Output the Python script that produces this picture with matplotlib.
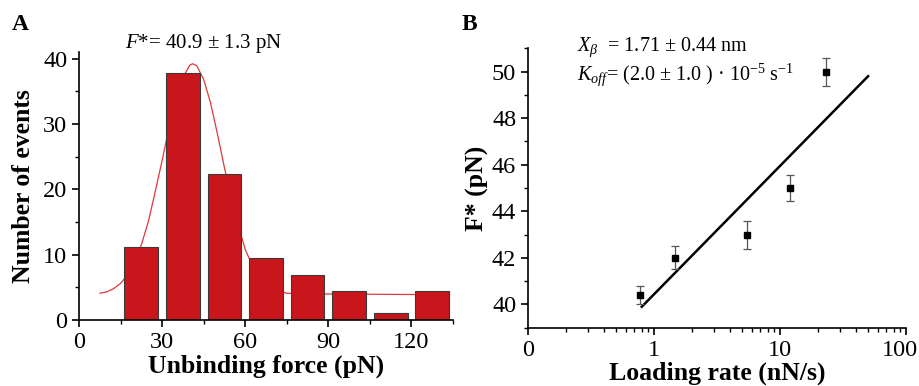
import numpy as np
import matplotlib
matplotlib.use("Agg")
import matplotlib.pyplot as plt
from matplotlib.ticker import FixedLocator, MultipleLocator, NullFormatter, LogLocator
from matplotlib.transforms import ScaledTranslation

plt.rcParams['font.family'] = ['Liberation Serif', 'DejaVu Serif']
plt.rcParams['mathtext.fontset'] = 'custom'
plt.rcParams['mathtext.rm'] = 'Liberation Serif'
plt.rcParams['mathtext.it'] = 'Liberation Serif:italic'

# ---- Panel A data ----
bin_centers = [22.5, 37.5, 52.5, 67.5, 82.5, 97.5, 112.5, 127.5]
counts = [11.2, 37.8, 22.4, 9.5, 6.9, 4.4, 1.0, 4.4]
fit_x = [7.6, 10, 12.5, 15, 17.5, 20, 22.5, 25, 27.5, 30, 32.5, 35, 37.5, 40, 41,
         42.5, 45, 47.5, 50, 52.5, 55, 57.5, 60, 62.5, 65, 67.5, 70, 75, 80, 121]
fit_y = [4.1, 4.3, 4.8, 5.6, 6.9, 8.7, 11.5, 15.0, 19.6, 24.4, 29.4, 33.9, 37.1, 39.0, 39.2,
         38.9, 36.8, 33.2, 28.4, 23.3, 18.5, 14.4, 10.8, 8.4, 6.5, 5.3, 4.7, 4.1, 4.0, 3.9]
a_xticks = [0, 30, 60, 90, 120]
a_yticks = [0, 10, 20, 30, 40]

# ---- Panel B data ----
rate = [0.78, 1.48, 5.47, 12.0, 23.3]
fstar = [40.4, 42.0, 43.0, 45.0, 50.0]
fstar_err = [0.4, 0.5, 0.6, 0.55, 0.6]
fit_rate = [0.80, 50.0]
fit_f = [39.9, 49.8]
b_xticks = [0.1, 1, 10, 100]
b_xticklabels = ['0', '1', '10', '100']
b_yticks = [40, 42, 44, 46, 48, 50]

fig = plt.figure(figsize=(9.19, 3.86), dpi=100)

# Panel A
axA = fig.add_axes([79/919, 1-320/386, 374/919, 268/386])
axA.bar(bin_centers, counts, width=12.2, color='#C8161C', edgecolor='#3a3a3a', linewidth=0.8, zorder=2)
axA.plot(fit_x, fit_y, color='#E0393B', linewidth=0.9, zorder=1)
axA.set_xlim(0, 135)
axA.set_ylim(0, 41)
axA.xaxis.set_major_locator(FixedLocator(a_xticks))
axA.xaxis.set_minor_locator(MultipleLocator(15))
axA.yaxis.set_major_locator(FixedLocator(a_yticks))
axA.yaxis.set_minor_locator(MultipleLocator(5))
for s in ['top', 'right']:
    axA.spines[s].set_visible(False)
for s in ['left', 'bottom']:
    axA.spines[s].set_linewidth(1.2)
axA.tick_params(which='major', direction='out', length=5, width=1.2, labelsize=17.5)
axA.tick_params(which='minor', direction='out', length=3, width=1.0)
axA.set_xlabel('Unbinding force (pN)', fontsize=18.5, fontweight='bold', labelpad=1)
axA.set_ylabel('Number of events', fontsize=18.5, fontweight='bold', labelpad=6)
axA.text(0.123, 1.03, r'$F$*= 40.9 ± 1.3 pN', transform=axA.transAxes, fontsize=15, va='center')
fig.text(12/919, 1-25/386, 'A', fontsize=17, fontweight='bold', va='center')

# Panel B
axB = fig.add_axes([528/919, 1-327.7/386, 378/919, 279.4/386])
axB.set_xscale('log')
axB.errorbar(rate, fstar, yerr=fstar_err, fmt='s', color='black', markersize=4.5,
             ecolor='#555555', elinewidth=0.9, capsize=3, capthick=0.9, zorder=3)
axB.plot(fit_rate, fit_f, color='black', linewidth=1.8, zorder=2)
axB.set_xlim(0.1, 100)
axB.set_ylim(39, 51)
axB.xaxis.set_major_locator(FixedLocator(b_xticks))
axB.set_xticklabels(b_xticklabels)
axB.xaxis.set_minor_locator(LogLocator(base=10, subs=np.arange(2, 10)))
axB.xaxis.set_minor_formatter(NullFormatter())
axB.yaxis.set_major_locator(FixedLocator(b_yticks))
axB.yaxis.set_minor_locator(MultipleLocator(1))
for s in ['top', 'right']:
    axB.spines[s].set_visible(False)
for s in ['left', 'bottom']:
    axB.spines[s].set_linewidth(1.2)
axB.tick_params(which='major', direction='out', length=5, width=1.2, labelsize=17.5)
axB.tick_params(which='minor', direction='out', length=3, width=1.0)
axB.set_xlabel('Loading rate (nN/s)', fontsize=18.5, fontweight='bold', labelpad=1)
axB.set_ylabel('F* (pN)', fontsize=18.5, fontweight='bold', labelpad=2)
axB.text(0.13, 1.005, r'$X_\beta$  = 1.71 ± 0.44 nm', transform=axB.transAxes, fontsize=14.5, va='center')
axB.text(0.13, 0.905, r'$K_{off}$= (2.0 ± 1.0 ) · 10$^{-5}$ s$^{-1}$', transform=axB.transAxes, fontsize=14.5, va='center')
fig.text(462/919, 1-25/386, 'B', fontsize=17, fontweight='bold', va='center')

# keep the last tick label inside the canvas
lastlab = axB.get_xticklabels()[-1]
lastlab.set_transform(lastlab.get_transform() + ScaledTranslation(-6/100, 0, fig.dpi_scale_trans))

fig.savefig('out.png', dpi=100)
